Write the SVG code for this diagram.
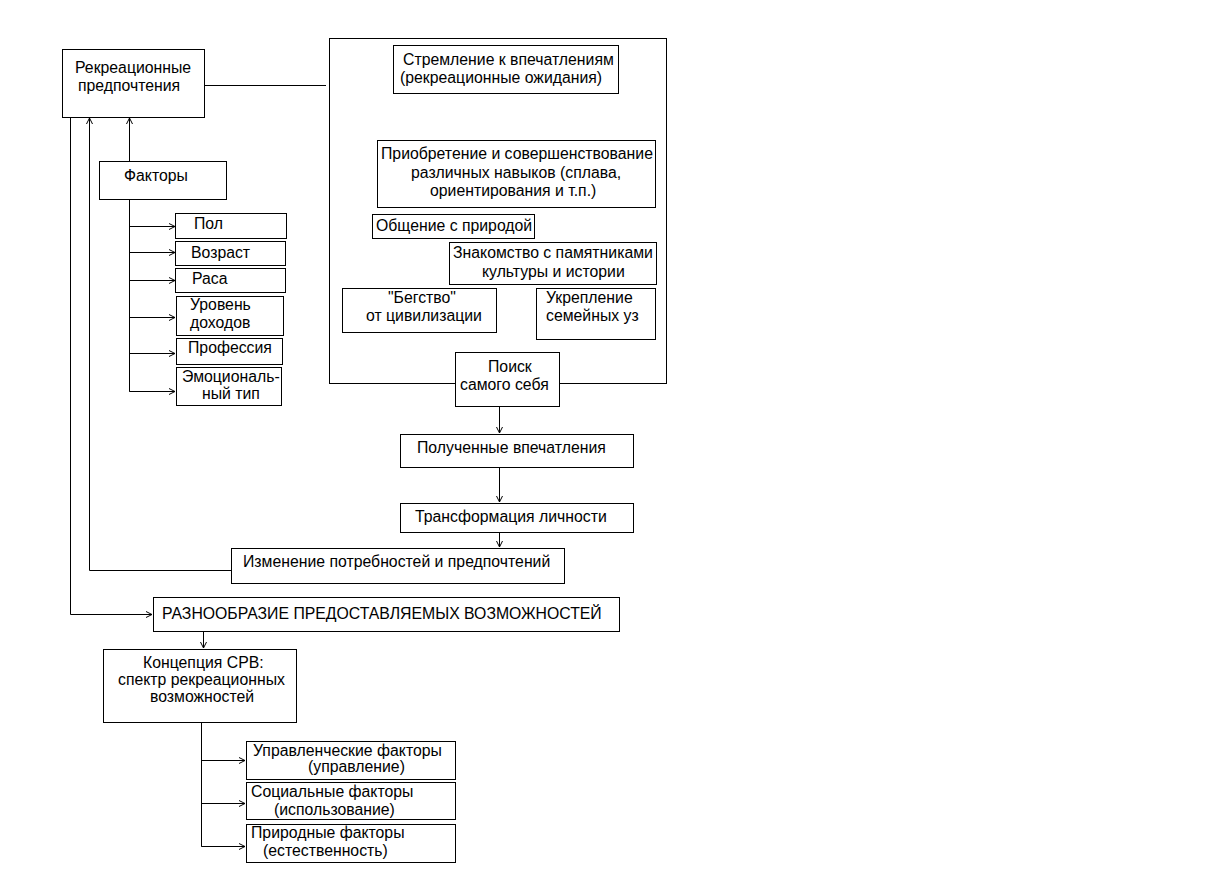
<svg xmlns="http://www.w3.org/2000/svg" width="1218" height="893" viewBox="0 0 1218 893">
<style>
rect{fill:#fff;stroke:#000;stroke-width:1}
text{font-family:"Liberation Sans",Arial,sans-serif;font-size:15.8px;fill:#000}
.c{fill:none;stroke:#000;stroke-width:1}
</style>
<defs>
<marker id="a" markerWidth="8" markerHeight="8" refX="7" refY="4" orient="auto" markerUnits="userSpaceOnUse">
<path d="M1,1 L7,4 L1,7" fill="none" stroke="#000" stroke-width="1"/>
</marker>
</defs>
<rect x="0" y="0" width="1218" height="893" style="stroke:none"/>
<g id="frame"><rect x="329.5" y="38.5" width="337" height="345"/></g>
<g id="connectors">
<path class="c" d="M204,85.5 H326"/>
<path class="c" d="M70.5,117 V614.5 H152" marker-end="url(#a)"/>
<path class="c" d="M231,570.5 H89.5 V118" marker-end="url(#a)"/>
<path class="c" d="M129.5,161 V118" marker-end="url(#a)"/>
<path class="c" d="M129.5,199 V391.5 H175"/>
<path class="c" d="M129.5,226.5 H175" marker-end="url(#a)"/>
<path class="c" d="M129.5,252.5 H175" marker-end="url(#a)"/>
<path class="c" d="M129.5,280.5 H175" marker-end="url(#a)"/>
<path class="c" d="M129.5,317.5 H175" marker-end="url(#a)"/>
<path class="c" d="M129.5,353.5 H175" marker-end="url(#a)"/>
<path class="c" d="M129.5,391.5 H175" marker-end="url(#a)"/>
<path class="c" d="M499.5,406 V433" marker-end="url(#a)"/>
<path class="c" d="M499.5,467 V502" marker-end="url(#a)"/>
<path class="c" d="M499.5,532 V547" marker-end="url(#a)"/>
<path class="c" d="M203.5,631 V648" marker-end="url(#a)"/>
<path class="c" d="M201.5,722 V846.5 H245"/>
<path class="c" d="M201.5,760.5 H245" marker-end="url(#a)"/>
<path class="c" d="M201.5,803.5 H245" marker-end="url(#a)"/>
<path class="c" d="M201.5,846.5 H245" marker-end="url(#a)"/>
</g>
<g id="n-pref"><rect x="62.5" y="49.5" width="142" height="68"/><text x="75" y="73">Рекреационные</text><text x="78" y="91">предпочтения</text></g>
<g id="n-factors"><rect x="99.5" y="161.5" width="127" height="38"/><text x="124" y="181">Факторы</text></g>
<g id="n-pol"><rect x="175.5" y="213.5" width="111" height="25"/><text x="194" y="229">Пол</text></g>
<g id="n-vozrast"><rect x="175.5" y="241.5" width="110" height="24"/><text x="191" y="258">Возраст</text></g>
<g id="n-rasa"><rect x="175.5" y="268.5" width="110" height="24"/><text x="192" y="284">Раса</text></g>
<g id="n-dohod"><rect x="176.5" y="296.5" width="107" height="39"/><text x="190" y="310">Уровень</text><text x="190" y="328">доходов</text></g>
<g id="n-prof"><rect x="176.5" y="338.5" width="106" height="26"/><text x="188" y="353">Профессия</text></g>
<g id="n-emo"><rect x="176.5" y="367.5" width="105" height="38"/><text x="182" y="382">Эмоциональ-</text><text x="202" y="399">ный тип</text></g>
<g id="n-strem"><rect x="393.5" y="45.5" width="225" height="48"/><text x="403" y="65">Стремление к впечатлениям</text><text x="400" y="83">(рекреационные ожидания)</text></g>
<g id="n-priobr"><rect x="377.5" y="140.5" width="278" height="67"/><text x="381" y="159">Приобретение и совершенствование</text><text x="411" y="178">различных навыков (сплава,</text><text x="430" y="196">ориентирования и т.п.)</text></g>
<g id="n-obsh"><rect x="372.5" y="214.5" width="162" height="24"/><text x="376" y="231">Общение с природой</text></g>
<g id="n-znak"><rect x="449.5" y="242.5" width="207" height="42"/><text x="453" y="258">Знакомство с памятниками</text><text x="482" y="277">культуры и истории</text></g>
<g id="n-begstvo"><rect x="342.5" y="288.5" width="154" height="44"/><text x="388" y="303">"Бегство"</text><text x="366" y="321">от цивилизации</text></g>
<g id="n-ukrep"><rect x="536.5" y="288.5" width="119" height="51"/><text x="546" y="303">Укрепление</text><text x="546" y="321">семейных уз</text></g>
<g id="n-poisk"><rect x="455.5" y="352.5" width="104" height="54"/><text x="488" y="372">Поиск</text><text x="460" y="390">самого себя</text></g>
<g id="n-poluch"><rect x="400.5" y="434.5" width="233" height="33"/><text x="417" y="453">Полученные впечатления</text></g>
<g id="n-transf"><rect x="400.5" y="503.5" width="233" height="29"/><text x="415" y="522">Трансформация личности</text></g>
<g id="n-izmen"><rect x="231.5" y="548.5" width="333" height="35"/><text x="243" y="567">Изменение потребностей и предпочтений</text></g>
<g id="n-razn"><rect x="153.5" y="597.5" width="466" height="34"/><text x="162" y="619">РАЗНООБРАЗИЕ ПРЕДОСТАВЛЯЕМЫХ ВОЗМОЖНОСТЕЙ</text></g>
<g id="n-srv"><rect x="103.5" y="649.5" width="193" height="73"/><text x="143" y="668">Концепция СРВ:</text><text x="118" y="685">спектр рекреационных</text><text x="150" y="702">возможностей</text></g>
<g id="n-upr"><rect x="246.5" y="741.5" width="209" height="38"/><text x="253" y="756">Управленческие факторы</text><text x="308" y="772">(управление)</text></g>
<g id="n-soc"><rect x="246.5" y="782.5" width="209" height="37"/><text x="251" y="797">Социальные факторы</text><text x="274" y="815">(использование)</text></g>
<g id="n-prir"><rect x="246.5" y="824.5" width="209" height="38"/><text x="251" y="838">Природные факторы</text><text x="263" y="856">(естественность)</text></g>
</svg>
